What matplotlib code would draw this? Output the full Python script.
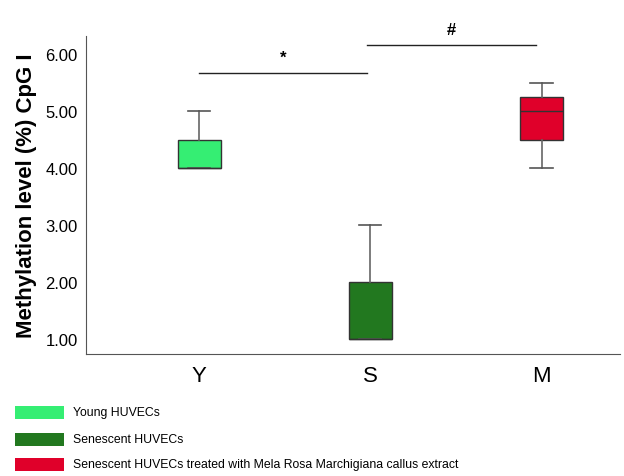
import matplotlib
matplotlib.use("Agg")
import matplotlib.pyplot as plt
from matplotlib.patches import Rectangle

plt.rcParams["font.family"] = ["Liberation Sans", "DejaVu Sans"]

groups = ["Y", "S", "M"]
legend_labels = [
    "Young HUVECs",
    "Senescent HUVECs",
    "Senescent HUVECs treated with Mela Rosa Marchigiana callus extract",
]
colors = ["#35ee73", "#22781f", "#e0002a"]

# box stats
q1 = [4.0, 1.0, 4.5]
med = [4.0, 1.0, 5.0]
q3 = [4.5, 2.0, 5.25]
whislo = [4.0, 1.0, 4.0]
whishi = [5.0, 3.0, 5.5]

sig_lines = [(1.0, 1.98, 5.67, "*"), (1.98, 2.97, 6.16, "#")]

fig = plt.figure(figsize=(6.24, 4.77), dpi=100)
ax = fig.add_axes([0.138, 0.256, 0.856, 0.666])

stats = []
for i, g in enumerate(groups):
    stats.append({"label": g, "q1": q1[i], "med": med[i], "q3": q3[i],
                  "whislo": whislo[i], "whishi": whishi[i], "fliers": []})

bp = ax.bxp(stats, positions=[1, 2, 3], widths=0.25, patch_artist=True,
            showfliers=False,
            boxprops=dict(edgecolor="#333333", linewidth=1.0),
            medianprops=dict(color="#333333", linewidth=1.0),
            whiskerprops=dict(color="#666666", linewidth=1.2),
            capprops=dict(color="#555555", linewidth=1.2),
            capwidths=0.13)
for patch, c in zip(bp["boxes"], colors):
    patch.set_facecolor(c)

for x0, x1, y, mark in sig_lines:
    ax.plot([x0, x1], [y, y], color="#222222", linewidth=1.0, clip_on=False)
    ax.text((x0 + x1) / 2, y + 0.28, mark, ha="center", va="center",
            fontsize=12, fontweight="bold", clip_on=False)

ax.set_xlim(0.34, 3.46)
ax.set_ylim(0.74, 6.32)
ax.set_yticks([1, 2, 3, 4, 5, 6])
ax.set_yticklabels(["1.00", "2.00", "3.00", "4.00", "5.00", "6.00"], fontsize=12)
ax.set_xticks([1, 2, 3])
ax.set_xticklabels(groups, fontsize=16)
ax.tick_params(axis="both", length=0, pad=6)
ax.tick_params(axis="x", pad=8)
ax.set_ylabel("Methylation level (%) CpG I", fontsize=16, fontweight="bold",
              labelpad=6)
for side in ("top", "right"):
    ax.spines[side].set_visible(False)
for side in ("left", "bottom"):
    ax.spines[side].set_color("#555555")

# legend drawn below the axes
legend_y = [413, 440, 465]
for c, lab, yp in zip(colors, legend_labels, legend_y):
    yf = 1 - yp / 477
    fig.patches.append(Rectangle((15 / 624, yf - 6.5 / 477), 49 / 624, 13 / 477,
                                 transform=fig.transFigure, facecolor=c,
                                 edgecolor="none"))
    fig.text(73 / 624, yf, lab, fontsize=8.8, va="center", ha="left")

fig.savefig("out.png", dpi=100)
